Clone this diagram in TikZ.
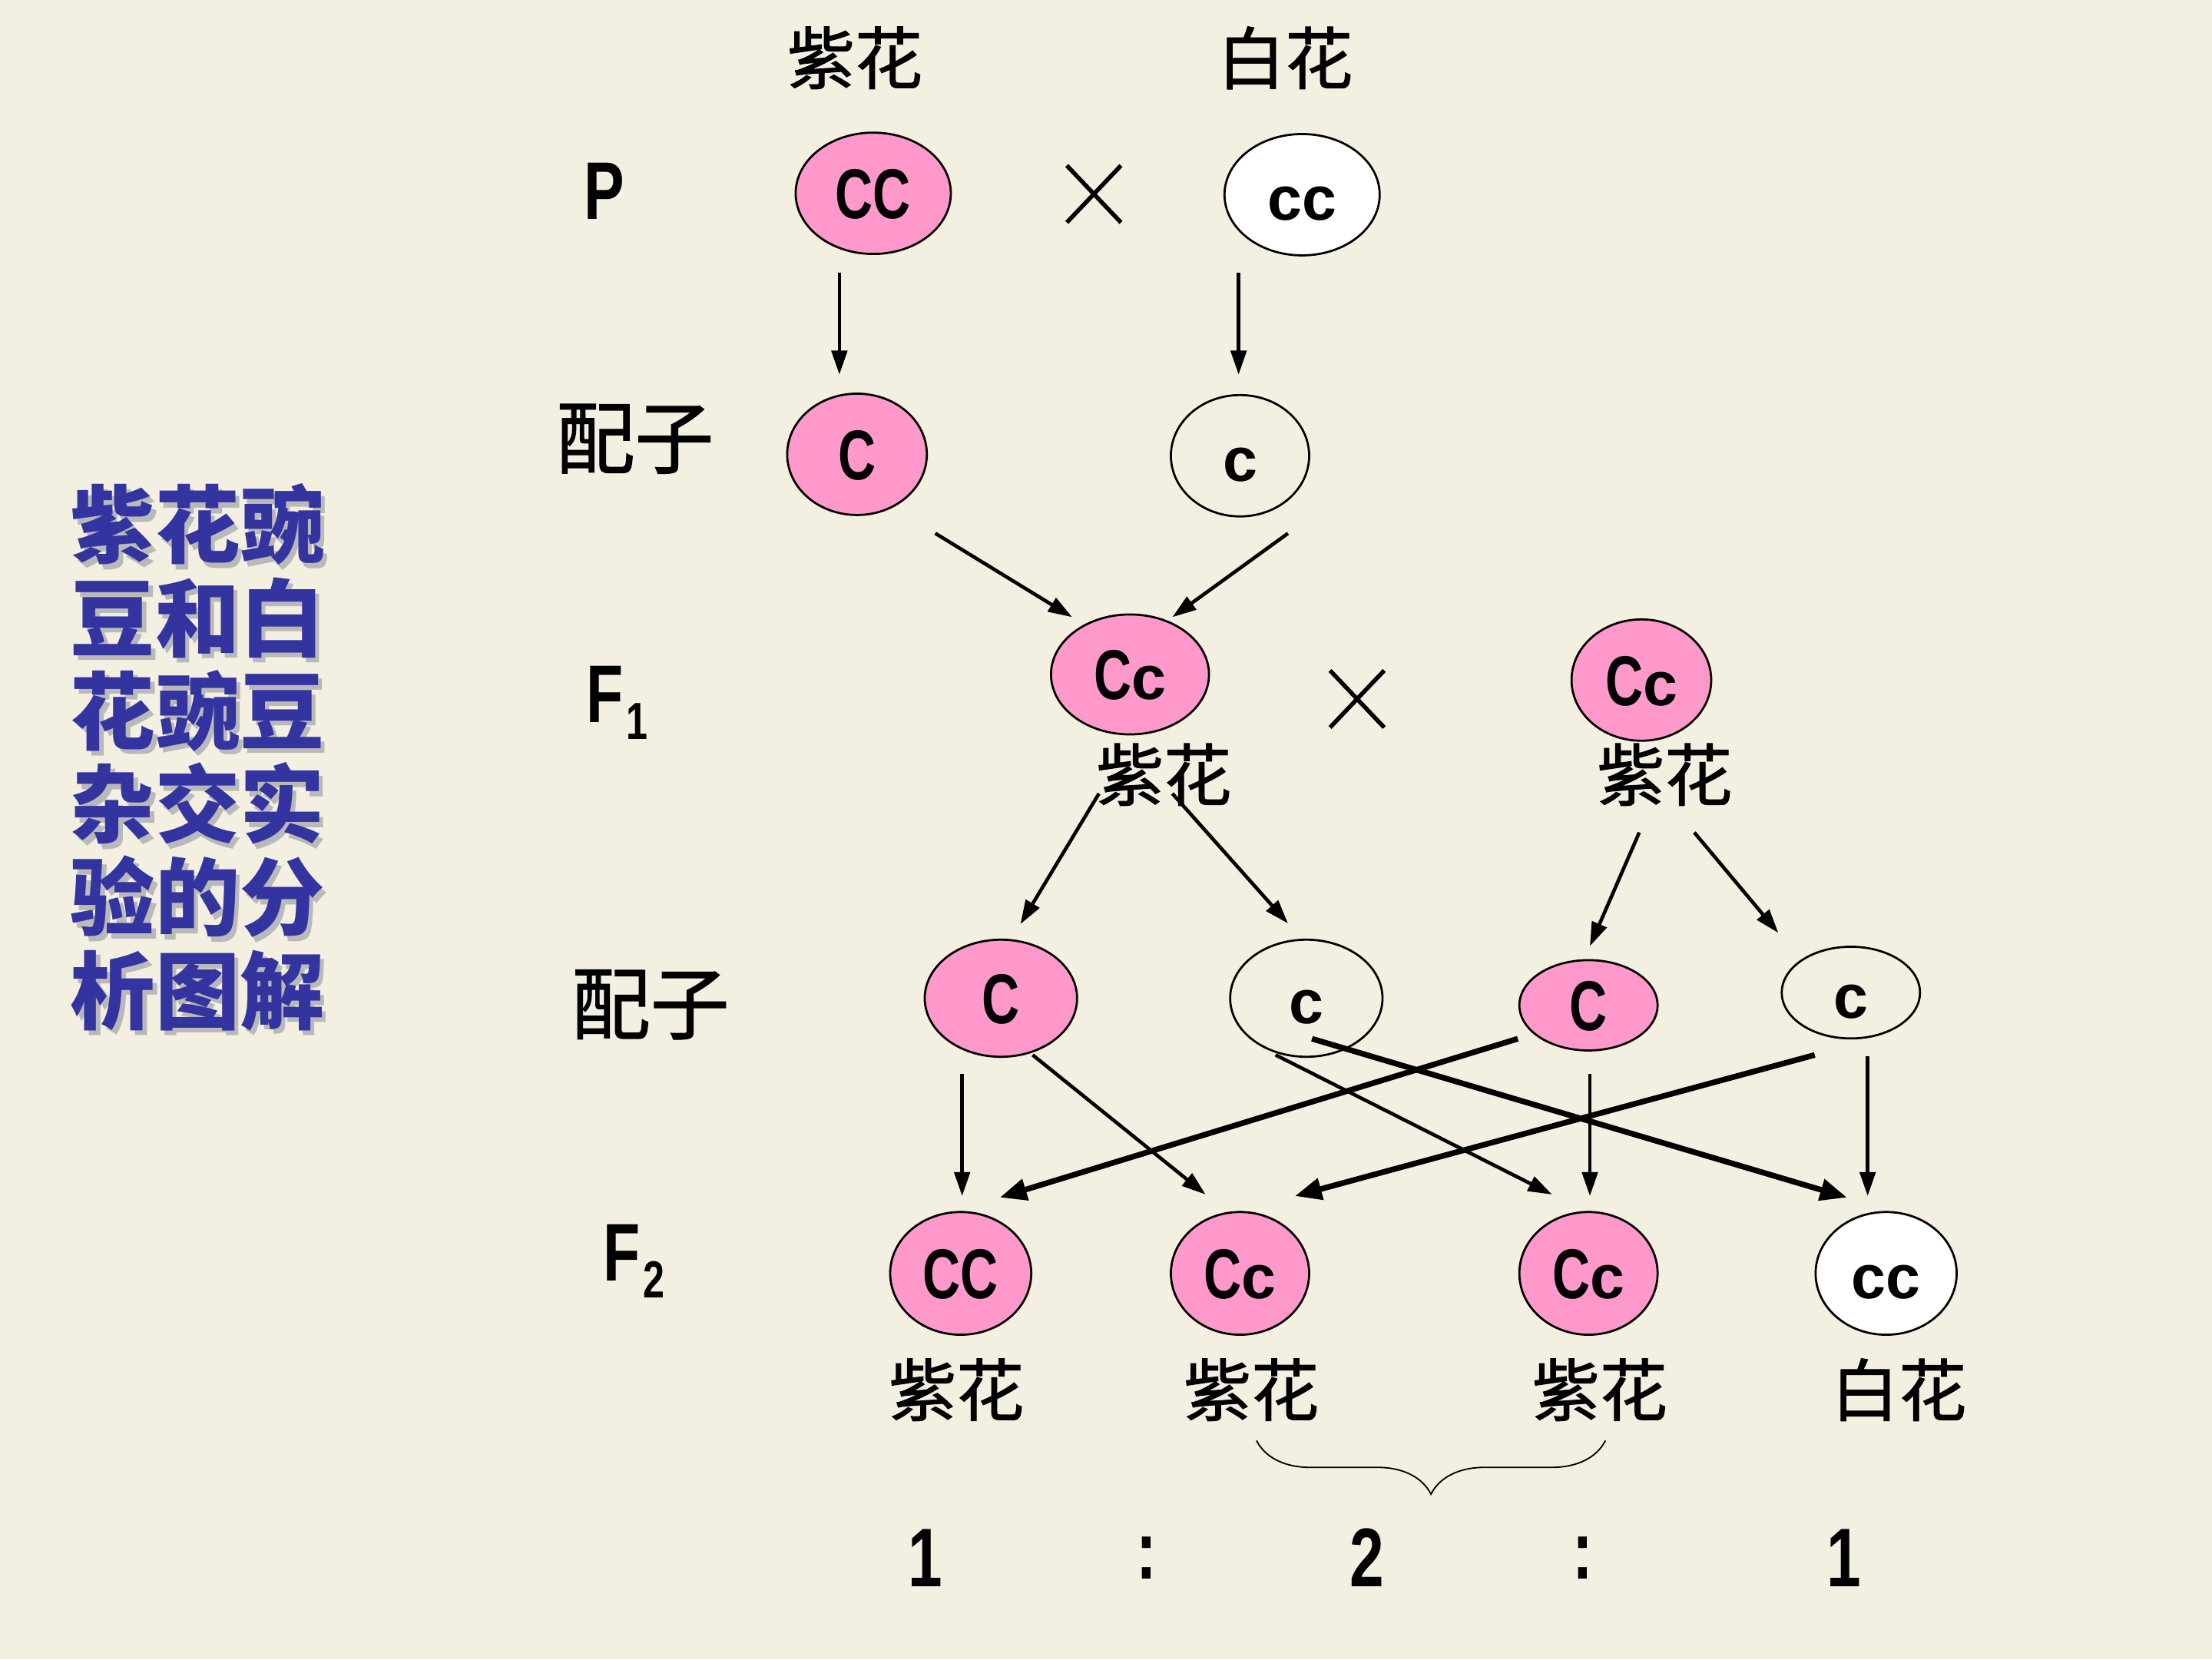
\documentclass[tikz,border=0pt]{standalone}
\usepackage{fontspec}
\usetikzlibrary{shapes.geometric,arrows.meta,decorations.pathreplacing}
\newfontfamily\cjk{Noto Sans CJK SC}
\newfontfamily\cjklab[FakeBold=1.2]{Noto Sans CJK SC}
\newfontfamily\narrowfont[FakeStretch=0.74]{Liberation Sans}
\newfontfamily\lcfont{Liberation Sans}
\definecolor{bg}{RGB}{243,240,225}
\definecolor{pinkfill}{RGB}{255,153,204}
\definecolor{titleblue}{RGB}{52,52,160}
\newcommand{\UC}[1]{{\narrowfont\bfseries\fontsize{50}{50}\selectfont #1}}
\newcommand{\LC}[1]{{\lcfont\bfseries\fontsize{44}{44}\selectfont #1}}
\newcommand{\GL}[2]{{\narrowfont\bfseries\fontsize{58}{58}\selectfont #1\hspace{2pt}\raisebox{-12pt}{\fontsize{37}{37}\selectfont #2}}}
\newcommand{\shd}[1]{\makebox[0pt][l]{\hspace{3pt}\raisebox{-3.5pt}{\textcolor{gray!55}{#1}}}#1}
\tikzset{
  gene/.style={ellipse, draw=black, line width=1.5pt, inner sep=0pt, text height=35.8pt, text depth=0pt},
  pinkg/.style={gene, fill=pinkfill},
  whiteg/.style={gene, fill=white},
  openg/.style={gene},
  cjklabel/.style={font=\cjklab\fontsize{48}{48}\selectfont, inner sep=0pt},
  peizi/.style={font=\cjklab\fontsize{56}{56}\selectfont, inner sep=0pt},
  ratio/.style={font=\narrowfont\bfseries\fontsize{59}{59}\selectfont, inner sep=0pt},
  crossmark/.style={minimum width=38pt, minimum height=40pt, inner sep=0pt},
  crossline/.style={line width=3pt},
  arr/.style={line width=2.5pt, -{Triangle[length=17pt,width=11pt]}},
  thickarr/.style={line width=4pt, -{Triangle[length=19pt,width=15pt]}},
}
\begin{document}
\begin{tikzpicture}[x=1pt,y=-1pt]
\useasboundingbox (0,0) rectangle (1568,1176);
\fill[bg] (0,0) rectangle (1568,1176);

% title
\node[align=center, text=titleblue, font=\cjk\bfseries\fontsize{60}{66}\selectfont, inner sep=0pt] (title) at (140,538.5)
  {\shd{紫花豌}\\\shd{豆和白}\\\shd{花豌豆}\\\shd{杂交实}\\\shd{验的分}\\\shd{析图解}};

% row labels
\node[anchor=base west, inner sep=0pt] (labP) at (414,155.5) {\GL{P}{}};
\node[peizi] (labG1) at (450,311) {配子};
\node[anchor=base west, inner sep=0pt] (labF1) at (415.5,512) {\GL{F}{1}};
\node[peizi] (labG2) at (461,712) {配子};
\node[anchor=base west, inner sep=0pt] (labF2) at (427.4,908) {\GL{F}{2}};

% P
\node[cjklabel] (tP1) at (606,41) {紫花};
\node[cjklabel] (tP2) at (911,41) {白花};
\node[pinkg, minimum width=110pt, minimum height=86pt] (pCC) at (619,137) {\UC{CC}};
\node[whiteg, minimum width=110pt, minimum height=86pt] (pcc) at (923,138) {\LC{cc}};
\node[crossmark] (x1) at (775.4,137.5) {};
\draw[crossline] (x1.north west) -- (x1.south east) (x1.north east) -- (x1.south west);

% gametes 1
\node[pinkg, minimum width=99pt, minimum height=86pt] (g1C) at (607.5,322) {\UC{C}};
\node[openg, minimum width=98pt, minimum height=86pt] (g1c) at (879,323) {\LC{c}};
\draw[arr] ([shift={(-24,56)}]pCC.center) -- ([shift={(-12.5,-56.5)}]g1C.center);
\draw[arr] ([shift={(-45,55)}]pcc.center) -- ([shift={(-1,-57.5)}]g1c.center);

% F1
\node[pinkg, minimum width=112pt, minimum height=85pt] (f1L) at (801,478) {\UC{C}\LC{c}};
\node[pinkg, minimum width=99pt, minimum height=86pt] (f1R) at (1163.5,482) {\UC{C}\LC{c}};
\node[cjklabel] (tF1a) at (825,549) {紫花};
\node[cjklabel] (tF1b) at (1180,549) {紫花};
\node[crossmark] (x2) at (962,495.4) {};
\draw[crossline] (x2.north west) -- (x2.south east) (x2.north east) -- (x2.south west);
\draw[arr] ([shift={(55.5,56)}]g1C.center) -- ([shift={(-41,-40.6)}]f1L.center);
\draw[arr] ([shift={(34,55)}]g1c.center) -- ([shift={(30,-40.6)}]f1L.center);

% gametes 2
\node[pinkg, minimum width=108pt, minimum height=83pt] (g2a) at (709.5,707.5) {\UC{C}};
\node[openg, minimum width=108pt, minimum height=83pt] (g2b) at (926,707.5) {\LC{c}};
\node[pinkg, minimum width=98pt, minimum height=64pt] (g2c) at (1126,712.5) {\UC{C}};
\node[openg, minimum width=98pt, minimum height=65pt] (g2d) at (1312,703.5) {\LC{c}};
\draw[arr] ([shift={(-22,84.4)}]f1L.center) -- ([shift={(13.8,-52.5)}]g2a.center);
\draw[arr] ([shift={(30,84.4)}]f1L.center) -- ([shift={(-13,-53)}]g2b.center);
\draw[arr] ([shift={(-1.5,108)}]f1R.center) -- ([shift={(1,-41.9)}]g2c.center);
\draw[arr] ([shift={(37.5,108)}]f1R.center) -- ([shift={(-51.4,-42.3)}]g2d.center);

% F2
\node[pinkg, minimum width=100pt, minimum height=87pt] (h1) at (681,902.5) {\UC{CC}};
\node[pinkg, minimum width=98pt, minimum height=87pt] (h2) at (879,902.5) {\UC{C}\LC{c}};
\node[pinkg, minimum width=98pt, minimum height=87pt] (h3) at (1126,902.5) {\UC{C}\LC{c}};
\node[whiteg, minimum width=100pt, minimum height=87pt] (h4) at (1337,902.5) {\LC{cc}};
\node[cjklabel] (tF2a) at (678,985) {紫花};
\node[cjklabel] (tF2b) at (887,985) {紫花};
\node[cjklabel] (tF2c) at (1134,985) {紫花};
\node[cjklabel] (tF2d) at (1346,985) {白花};

\draw[arr] ([shift={(-27.5,53.5)}]g2a.center) -- ([shift={(1,-54.8)}]h1.center);
\draw[arr] ([shift={(22.5,40.2)}]g2a.center) -- ([shift={(-24.4,-55.9)}]h2.center);
\draw[arr] ([shift={(-21.8,40.2)}]g2b.center) -- ([shift={(-25.8,-55.9)}]h3.center);
\draw[thickarr] ([shift={(4,28.7)}]g2b.center) -- ([shift={(-27.8,-53.8)}]h4.center);
\draw[thickarr] ([shift={(-50.1,23.7)}]g2c.center) -- ([shift={(27.8,-53.8)}]h1.center);
\draw[thickarr] ([shift={(-25.6,44.2)}]g2d.center) -- ([shift={(38.9,-54.8)}]h2.center);
\draw[arr] ([shift={(1,48.5)}]g2c.center) -- ([shift={(1,-54.8)}]h3.center);
\draw[arr] ([shift={(11.9,45.1)}]g2d.center) -- ([shift={(-13.1,-54.8)}]h4.center);

% brace
\coordinate (bl) at (890.7,1021);
\coordinate (br) at (1138,1021);
\draw[line width=1pt, decorate, decoration={brace, mirror, amplitude=38pt}] (bl) -- (br);

% ratio
\node[ratio] (r1) at (656,1104) {1};
\node[ratio] (c1) at (813,1104) {:};
\node[ratio] (r2) at (969,1104) {2};
\node[ratio] (c2) at (1122,1104) {:};
\node[ratio] (r3) at (1307,1104) {1};
\end{tikzpicture}
\end{document}
